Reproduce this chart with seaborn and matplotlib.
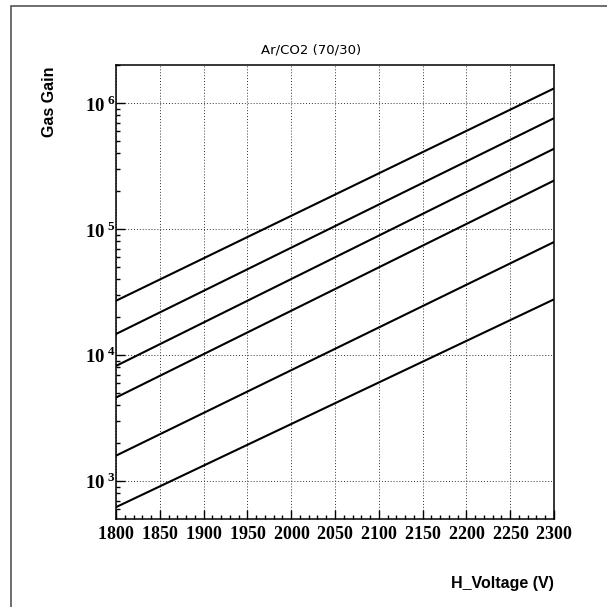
import numpy as np
import pandas as pd
import matplotlib
matplotlib.use("Agg")
import matplotlib.pyplot as plt
from matplotlib.ticker import FixedLocator, LogLocator, FuncFormatter, NullFormatter
from matplotlib.patches import Rectangle
import seaborn as sns

# gas gain vs high voltage, Ar/CO2 (70/30), six curves
voltage = [1800, 2300]
gain_1 = [2.70e4, 1.31e6]
gain_2 = [1.47e4, 7.60e5]
gain_3 = [8.20e3, 4.35e5]
gain_4 = [4.60e3, 2.43e5]
gain_5 = [1.59e3, 7.90e4]
gain_6 = [6.20e2, 2.77e4]
curves = [gain_1, gain_2, gain_3, gain_4, gain_5, gain_6]

xticks = [1800, 1850, 1900, 1950, 2000, 2050, 2100, 2150, 2200, 2250, 2300]
yticks = [1e3, 1e4, 1e5, 1e6]

rows = []
for k, g in enumerate(curves):
    for v, y in zip(voltage, g):
        rows.append({"voltage": v, "gain": y, "curve": k})
df = pd.DataFrame(rows)

sns.set_style("ticks")
plt.rcParams["mathtext.fontset"] = "custom"
plt.rcParams["mathtext.bf"] = "Liberation Serif:bold"
plt.rcParams["mathtext.rm"] = "Liberation Serif:bold"
for key in ["text.color", "axes.labelcolor", "xtick.color", "ytick.color"]:
    plt.rcParams[key] = "black"

fig = plt.figure(figsize=(6.07, 6.07), dpi=100)
ax = fig.add_axes([116/607, 1-518.7/607, 438/607, 453.4/607])

sns.lineplot(data=df, x="voltage", y="gain", hue="curve", units="curve",
             estimator=None, palette=["black"]*6, legend=False,
             linewidth=1.5, ax=ax)

ax.set_yscale("log")
ax.set_xlim(1800, 2300)
ax.set_ylim(502, 2.0e6)

ax.xaxis.set_major_locator(FixedLocator(xticks))
ax.xaxis.set_minor_locator(FixedLocator(np.arange(1800, 2301, 10)))
ax.xaxis.set_major_formatter(FuncFormatter(lambda v, p: r"$\mathbf{%d}$" % v))
ax.yaxis.set_major_locator(FixedLocator(yticks))
ax.yaxis.set_minor_locator(LogLocator(base=10, subs=np.arange(2, 10)))
ax.yaxis.set_minor_formatter(NullFormatter())
ax.yaxis.set_major_formatter(FuncFormatter(
    lambda v, p: r"$\mathbf{10}^{\;\mathbf{%d}}$" % int(round(np.log10(v)))))

ax.tick_params(which="both", direction="in", top=False, right=False,
               color="black", width=1.0)
ax.tick_params(which="major", length=6.3)
ax.tick_params(which="minor", length=3.1)
ax.tick_params(axis="x", labelsize=13, pad=4.5)
ax.tick_params(axis="y", labelsize=13.5, pad=0.5)

ax.grid(True, which="major", color="#333333", linewidth=0.7,
        linestyle=(0, (1, 2)))
for s in ax.spines.values():
    s.set_visible(True)
    s.set_linewidth(1.1)
    s.set_color("black")

ax.set_xlabel("H_Voltage (V)", family="Liberation Sans", fontweight="bold",
              fontsize=11.5)
ax.xaxis.label.set(ha="right", va="center")
ax.xaxis.set_label_coords(1.0, -0.142)
ax.set_ylabel("Gas Gain", family="Liberation Sans", fontweight="bold",
              fontsize=11.5)
ax.yaxis.label.set(ha="center", va="center", rotation_mode="anchor")
ax.yaxis.set_label_coords(-0.1507, 0.919)

fig.text(261/607, 1-50/607, "Ar/CO2 (70/30)", ha="left", va="center",
         fontsize=9.5, family="DejaVu Sans")

# ROOT canvas frame (only left/top edges inside the image)
fig.add_artist(Rectangle((10.5/607, -0.1), 1.2, 1.1 - 5.5/607,
                         transform=fig.transFigure, fill=False,
                         edgecolor="#555555", linewidth=1.2))

fig.savefig("out.png", dpi=100)
